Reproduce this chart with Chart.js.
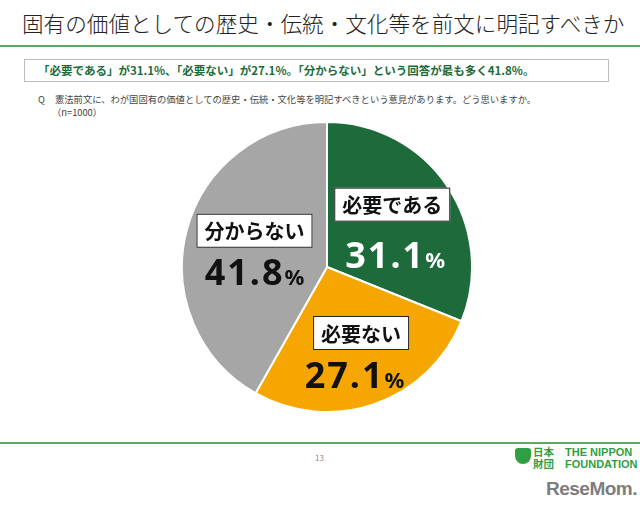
<!DOCTYPE html>
<html lang="ja">
<head>
<meta charset="utf-8">
<script src="https://cdn.jsdelivr.net/npm/chart.js@4"></script>
<style>
  html, body { margin: 0; padding: 0; background: #fff; }
  body { width: 640px; height: 507px; position: relative; overflow: hidden;
         font-family: "Noto Sans CJK JP", "Noto Sans", sans-serif; }
  .abs { position: absolute; white-space: nowrap; }
  #title { left: 22px; top: 7px; font-size: 21.6px; color: #222; font-weight: 300; }
  .rule { position: absolute; left: 0; width: 640px; height: 2px; background: #5aaa62; }
  #summary { left: 24px; top: 59px; width: 583px; height: 21px; border: 1.5px solid #bdbdbd;
             box-sizing: content-box; }
  #summary span { position: absolute; left: 13px; top: 2px; font-size: 11.5px; font-weight: bold; color: #1e6b3a; }
  .q { font-size: 9.3px; color: #444; }
  #pageNo { left: 315px; top: 452px; font-size: 8px; color: #888; }
  #logoText { left: 565px; top: 446px; font-size: 11px; font-weight: bold; color: #2ea043; line-height: 12px;
              font-family: "Liberation Sans", sans-serif; }
  #logoJp { left: 533px; top: 446px; font-size: 10.5px; color: #2ea043; line-height: 12px; font-weight: bold; }
  #logoIcon { left: 515px; top: 448px; width: 16px; height: 16px; border-radius: 3px 3px 8px 8px; background: #2ea043; }
  #resemom { left: 546px; top: 478px; font-size: 19px; font-weight: bold; color: #7d7d7d;
             font-family: "Liberation Sans", sans-serif; letter-spacing: -0.5px; }
  #wrap { position: absolute; left: 181px; top: 121px; width: 292px; height: 292px; }
</style>
</head>
<body>
<div id="title" class="abs">固有の価値としての歴史・伝統・文化等を前文に明記すべきか</div>
<div class="rule" style="top:45px"></div>
<div id="summary" class="abs"><span>「必要である」が31.1%、「必要ない」が27.1%。「分からない」という回答が最も多く41.8%。</span></div>
<div class="abs q" style="left:38px; top:92px">Q</div>
<div class="abs q" style="left:55px; top:92px">憲法前文に、わが国固有の価値としての歴史・伝統・文化等を明記すべきという意見があります。どう思いますか。</div>
<div class="abs q" style="left:52px; top:105px">（n=1000）</div>
<div id="wrap"><canvas id="pie"></canvas></div>
<div class="rule" style="top:442px"></div>
<div id="pageNo" class="abs">13</div>
<div id="logoIcon" class="abs"></div>
<div id="logoJp" class="abs">日本<br>財団</div>
<div id="logoText" class="abs">THE NIPPON<br>FOUNDATION</div>
<div id="resemom" class="abs">ReseMom.</div>

<script>
const categories = ['必要である', '必要ない', '分からない'];
const shares = [31.1, 27.1, 41.8];
const sliceColors = ['#1d6b3b', '#f5a600', '#a6a6a6'];
const valueColors = ['#ffffff', '#111111', '#111111'];

// label placement in units of the pie radius, relative to the pie centre
const boxAnchors = [[0.45, -0.43], [0.235, 0.455], [-0.50, -0.25]];
const valueAnchors = [[0.47, -0.08], [0.19, 0.745], [-0.50, 0.035]];

const sliceLabels = {
  id: 'sliceLabels',
  afterDatasetsDraw(chart) {
    const ctx = chart.ctx;
    const arc = chart.getDatasetMeta(0).data[0];
    const cx = arc.x, cy = arc.y, r = arc.outerRadius;
    ctx.save();
    categories.forEach((name, i) => {
      // white box with category name
      const bx = cx + boxAnchors[i][0] * r;
      const by = cy + boxAnchors[i][1] * r;
      ctx.font = 'bold 20px "Noto Sans CJK JP"';
      const w = ctx.measureText(name).width + 16;
      const h = 34;
      ctx.fillStyle = '#fff';
      ctx.fillRect(bx - w / 2, by - h / 2, w, h);
      ctx.strokeStyle = '#222';
      ctx.lineWidth = 1;
      ctx.strokeRect(bx - w / 2 + 0.5, by - h / 2 + 0.5, w - 1, h - 1);
      ctx.fillStyle = '#111';
      ctx.textAlign = 'center';
      ctx.textBaseline = 'middle';
      ctx.fillText(name, bx, by + 1);

      // percentage, with a smaller % sign
      const vx = cx + valueAnchors[i][0] * r;
      const vy = cy + valueAnchors[i][1] * r;
      const num = shares[i].toFixed(1);
      ctx.font = 'bold 36px "Noto Sans", "DejaVu Sans"';
      const nw = ctx.measureText(num).width + num.length * 2;
      ctx.font = 'bold 22px "Noto Sans", "DejaVu Sans"';
      const pw = ctx.measureText('%').width;
      let x = vx - (nw + pw) / 2;
      ctx.fillStyle = valueColors[i];
      ctx.textAlign = 'left';
      ctx.textBaseline = 'alphabetic';
      ctx.font = 'bold 36px "Noto Sans", "DejaVu Sans"';
      ctx.letterSpacing = '2px';
      ctx.fillText(num, x, vy + 13);
      ctx.letterSpacing = '0px';
      ctx.font = 'bold 22px "Noto Sans", "DejaVu Sans"';
      ctx.fillText('%', x + nw, vy + 13);
    });
    ctx.restore();
  }
};

new Chart(document.getElementById('pie'), {
  type: 'pie',
  data: {
    labels: categories,
    datasets: [{
      data: shares,
      backgroundColor: sliceColors,
      borderColor: '#ffffff',
      borderWidth: 2
    }]
  },
  options: {
    responsive: true,
    maintainAspectRatio: false,
    animation: false,
    layout: { padding: 0 },
    plugins: {
      legend: { display: false },
      tooltip: { enabled: false }
    }
  },
  plugins: [sliceLabels]
});
</script>
</body>
</html>
